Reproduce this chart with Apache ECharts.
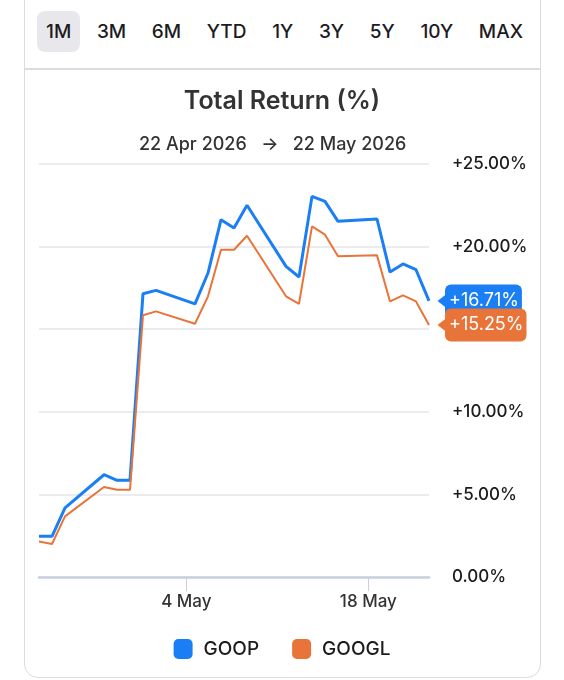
<!DOCTYPE html>
<html>
<head>
<meta charset="utf-8">
<script src="https://cdn.jsdelivr.net/npm/echarts@6/dist/echarts.min.js"></script>
<style>
  html, body { margin: 0; padding: 0; background: #fff; }
  body { width: 564px; height: 680px; position: relative; overflow: hidden; font-family: Inter, "Noto Sans", sans-serif; }
  .card { position: absolute; left: 24px; top: -14px; width: 515px; height: 690px; border: 1.5px solid #dcdce0; border-radius: 14px; }
  .tabs { position: absolute; left: 37px; right: 32px; top: 11px; height: 41px; display: flex; justify-content: space-between; align-items: center; }
  .tab { padding: 0 9px; height: 41px; line-height: 41px; font-size: 19px; font-weight: 500; color: #1c1c1e; border-radius: 8px; }
  .tab.on { background: #e8e8ec; }
  .sep { position: absolute; left: 25px; width: 515px; top: 68px; height: 1.5px; background: #dcdce0; }
  #chart { position: absolute; left: 0; top: 0; width: 564px; height: 680px; }
</style>
</head>
<body>
<div class="card"></div>
<div class="tabs" id="tabs"></div>
<div class="sep"></div>
<div id="chart"></div>
<script>
// range buttons
const ranges = ["1M", "3M", "6M", "YTD", "1Y", "3Y", "5Y", "10Y", "MAX"];
const activeRange = "1M";

// trading days (close)
const dates = [
  "2026-04-22", "2026-04-23", "2026-04-24", "2026-04-27", "2026-04-28", "2026-04-29",
  "2026-04-30", "2026-05-01", "2026-05-04", "2026-05-05", "2026-05-06", "2026-05-07",
  "2026-05-08", "2026-05-11", "2026-05-12", "2026-05-13", "2026-05-14", "2026-05-15",
  "2026-05-18", "2026-05-19", "2026-05-20", "2026-05-21", "2026-05-22"
];
const goop = [2.46, 2.46, 4.18, 6.19, 5.85, 5.85, 17.15, 17.35, 16.53, 18.4, 21.63, 21.13,
  22.5, 18.8, 18.16, 23.04, 22.74, 21.53, 21.67, 18.46, 18.95, 18.6, 16.71];
const googl = [2.15, 2.0, 3.67, 5.45, 5.28, 5.28, 15.84, 16.08, 15.33, 16.99, 19.81, 19.81,
  20.66, 16.99, 16.54, 21.22, 20.72, 19.41, 19.47, 16.68, 17.05, 16.68, 15.25];

const tickDates = ["2026-05-04", "2026-05-18"];
const yTicks = [0, 5, 10, 15, 20, 25];
const monthNames = ["Jan", "Feb", "Mar", "Apr", "May", "Jun", "Jul", "Aug", "Sep", "Oct", "Nov", "Dec"];

const colors = { GOOP: "#1a7ff5", GOOGL: "#e9743a" };

document.getElementById("tabs").innerHTML = ranges
  .map(r => `<div class="tab${r === activeRange ? " on" : ""}">${r}</div>`).join("");

function toTime(s, h) {
  const p = s.split("-").map(Number);
  return new Date(p[0], p[1] - 1, p[2], h || 0).getTime();
}
function fmtDay(s) {
  const p = s.split("-").map(Number);
  return p[2] + " " + monthNames[p[1] - 1] + " " + p[0];
}
function fmtPct(v) {
  return (v > 0 ? "+" : "") + v.toFixed(2) + "%";
}

const times = dates.map(d => toTime(d, 16));
const tickTimes = tickDates.map(d => toTime(d));
const font = "Inter, 'Noto Sans', sans-serif";
const ink = "#1c1c1e";

function makeSeries(name, values, width) {
  const last = values.length - 1;
  return {
    name: name,
    type: "line",
    symbol: "none",
    data: values.map((v, i) => [times[i], v]),
    lineStyle: { color: colors[name], width: width },
    itemStyle: { color: colors[name] },
    endLabel: {
      show: true,
      formatter: p => fmtPct(p.value[1]),
      color: "#fff",
      fontSize: 18,
      lineHeight: 21,
      fontFamily: font,
      backgroundColor: colors[name],
      borderRadius: 6,
      padding: [6, 3, 6, 4],
      distance: 16
    },
    markPoint: {
      silent: true,
      symbol: "triangle",
      symbolSize: [14, 9],
      symbolRotate: 90,
      symbolOffset: [13, 0],
      itemStyle: { color: colors[name] },
      label: { show: false },
      data: [{ coord: [times[last], values[last]] }]
    }
  };
}

const chart = echarts.init(document.getElementById("chart"));
chart.setOption({
  animation: false,
  textStyle: { fontFamily: font },
  title: [
    {
      text: "Total Return (%)",
      left: "center",
      top: 84,
      textStyle: { fontSize: 25, fontWeight: 600, color: "#333", fontFamily: font }
    },
    {
      text: fmtDay(dates[0]) + "   \u2192   " + fmtDay(dates[dates.length - 1]),
      left: 134,
      top: 131,
      textStyle: { fontSize: 18, fontWeight: 500, color: "#333", fontFamily: font }
    }
  ],
  legend: {
    bottom: 16,
    left: "center",
    icon: "roundRect",
    itemWidth: 19,
    itemHeight: 20,
    itemGap: 33,
    textStyle: { fontSize: 19, fontWeight: 500, color: ink, padding: [0, 0, 0, 6], fontFamily: font },
    data: ["GOOP", "GOOGL"]
  },
  grid: { left: 39, right: 135, top: 164, bottom: 103 },
  xAxis: {
    type: "value",
    min: times[0],
    max: times[times.length - 1],
    axisLine: { show: true, lineStyle: { color: "#c8cfdf", width: 2.5 } },
    axisTick: {
      show: true,
      customValues: tickTimes,
      length: 14,
      lineStyle: { color: "#c8cfdf", width: 1 }
    },
    axisLabel: {
      customValues: tickTimes,
      formatter: v => {
        const d = new Date(v);
        return d.getDate() + " " + monthNames[d.getMonth()];
      },
      fontSize: 17,
      fontWeight: 500,
      color: "#333",
      margin: 16
    },
    splitLine: { show: false }
  },
  yAxis: {
    type: "value",
    position: "right",
    min: yTicks[0],
    max: yTicks[yTicks.length - 1],
    interval: 5,
    axisLine: { show: false },
    axisTick: { show: false },
    axisLabel: { formatter: v => fmtPct(v), fontSize: 17, fontWeight: 500, color: ink, margin: 23 },
    splitLine: { lineStyle: { color: "#e6e6ea", width: 1.5 } }
  },
  series: [makeSeries("GOOP", goop, 3), makeSeries("GOOGL", googl, 2)]
});
</script>
</body>
</html>
